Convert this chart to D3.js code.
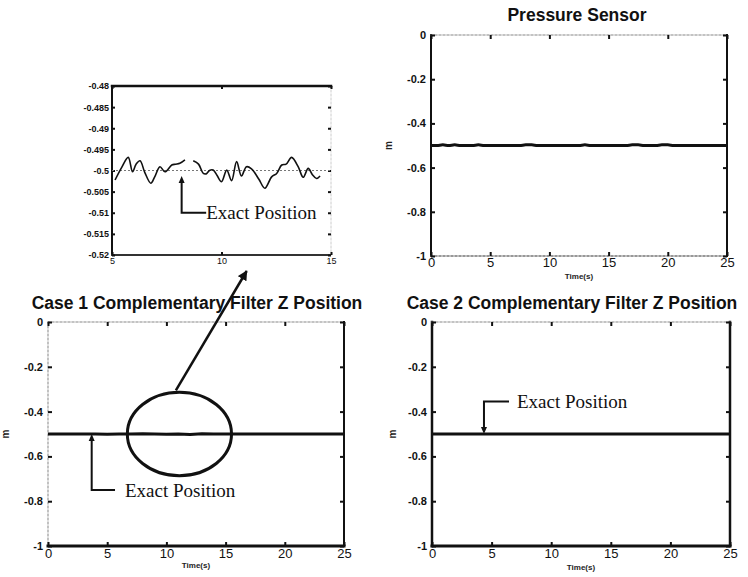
<!DOCTYPE html>
<html><head><meta charset="utf-8">
<script src="https://cdn.jsdelivr.net/npm/d3@7"></script>
<style>body{margin:0;background:#fff}svg{display:block}</style>
</head><body><svg id="c" width="748" height="577"></svg>
<script>
// ---------- data ----------
const xTicks = [0, 5, 10, 15, 20, 25];
const yTicks = [0, -0.2, -0.4, -0.6, -0.8, -1];
const yTickLabels = ["0", "-0.2", "-0.4", "-0.6", "-0.8", "-1"];
const insetXTicks = [5, 10, 15];
const insetYTicks = [-0.48, -0.485, -0.49, -0.495, -0.5, -0.505, -0.51, -0.515, -0.52];
const insetYTickLabels = ["-0.48", "-0.485", "-0.49", "-0.495", "-0.5", "-0.505", "-0.51", "-0.515", "-0.52"];

const pressureTime  = [0, 0.5, 1, 1.5, 2, 2.5, 3, 3.5, 4, 4.5, 5, 5.5, 6, 6.5, 7, 7.5, 8, 8.5, 9, 9.5, 10, 10.5, 11, 11.5, 12, 12.5, 13, 13.5, 14, 14.5, 15, 15.5, 16, 16.5, 17, 17.5, 18, 18.5, 19, 19.5, 20, 20.5, 21, 21.5, 22, 22.5, 23, 23.5, 24, 24.5, 25];
const pressureValue = [-0.5, -0.5, -0.497, -0.5, -0.497, -0.5, -0.5, -0.5, -0.497, -0.5, -0.5, -0.5, -0.5, -0.5, -0.5, -0.5, -0.497, -0.497, -0.5, -0.5, -0.5, -0.5, -0.5, -0.5, -0.5, -0.5, -0.497, -0.5, -0.5, -0.5, -0.5, -0.5, -0.5, -0.5, -0.497, -0.497, -0.5, -0.5, -0.5, -0.497, -0.497, -0.5, -0.5, -0.5, -0.5, -0.5, -0.5, -0.5, -0.5, -0.5, -0.5];

const case1Time  = [0, 1, 2, 3, 4, 5, 6, 7, 8, 9, 10, 11, 12, 13, 14, 15, 16, 17, 18, 19, 20, 21, 22, 23, 24, 25];
const case1Value = [-0.5, -0.5005, -0.4995, -0.5, -0.5005, -0.501, -0.4995, -0.5, -0.499, -0.5005, -0.5015, -0.4995, -0.502, -0.499, -0.5, -0.5005, -0.5, -0.4995, -0.5005, -0.5, -0.5, -0.5005, -0.4995, -0.5, -0.5, -0.5];

const case2Time  = [0, 2.5, 5, 7.5, 10, 12.5, 15, 17.5, 20, 22.5, 25];
const case2Value = [-0.5, -0.5, -0.5005, -0.5, -0.5, -0.4995, -0.5, -0.5, -0.5005, -0.5, -0.5];

const insetTime  = [5.14, 5.45, 5.74, 5.94, 6.1, 6.28, 6.5, 6.77, 6.95, 7.19, 7.42, 7.73, 7.9, 8.1, 8.33, 8.5, 8.71, 8.95, 9.17, 9.3, 9.45, 9.62, 9.8, 10.0, 10.24, 10.46, 10.69, 10.91, 11.14, 11.37, 11.7, 11.98, 12.29, 12.52, 12.75, 12.95, 13.2, 13.5, 13.73, 13.96, 14.15, 14.34, 14.5];
const insetValue = [-0.50225, -0.4992, -0.4969, -0.5003, -0.4985, -0.4977, -0.5005, -0.503, -0.5015, -0.4991, -0.5003, -0.4987, -0.4985, -0.4983, -0.4975, null, -0.4977, -0.4985, -0.5007, -0.5008, -0.5, -0.4999, -0.5012, -0.50265, -0.4999, -0.5024, -0.4979, -0.5013, -0.4991, -0.4996, -0.502, -0.5042, -0.5015, -0.5007, -0.4987, -0.4985, -0.4969, -0.4991, -0.5016, -0.4995, -0.501, -0.5019, -0.5013];

const exactPosition = -0.5;
const titles = ["Pressure Sensor", "Case 1 Complementary Filter Z Position", "Case 2 Complementary Filter Z Position"];
const xLabel = "Time(s)";
const yLabel = "m";
const annotationText = "Exact Position";

// ---------- drawing ----------
const svg = d3.select("#c");
svg.append("rect").attr("width", 748).attr("height", 577).attr("fill", "#fff");
const SANS = "'Liberation Sans', Arial, sans-serif";
const SERIF = "'Liberation Serif', 'Times New Roman', serif";

const solid = w => ({c: "#111", w: w});
const dotted = (c, w) => ({c: c, w: w, d: "2,2"});

function panel(o) {
  const x = d3.scaleLinear().domain(o.xDomain).range([o.l, o.r]);
  const y = d3.scaleLinear().domain(o.yDomain).range([o.b, o.t]);
  const g = svg.append("g");
  const sides = {
    left: [o.l, o.t, o.l, o.b], right: [o.r, o.t, o.r, o.b],
    top: [o.l, o.t, o.r, o.t], bottom: [o.l, o.b, o.r, o.b]
  };
  Object.keys(sides).forEach(k => {
    const s = o.border[k], c = sides[k];
    g.append("line").attr("x1", c[0]).attr("y1", c[1]).attr("x2", c[2]).attr("y2", c[3])
      .attr("stroke", s.c).attr("stroke-width", s.w).attr("stroke-dasharray", s.d || null)
      .attr("stroke-linecap", "square");
  });
  const style = (sel, size, weight) => {
    sel.select(".domain").remove();
    sel.selectAll(".tick line").attr("stroke", "#111").attr("stroke-width", 2);
    sel.selectAll("text").attr("font-family", SANS).attr("font-size", size)
      .attr("font-weight", weight).attr("fill", "#111");
  };
  g.append("g").attr("transform", `translate(0,${o.b})`)
    .call(d3.axisBottom(x).tickValues(o.xTicks).tickFormat(d3.format("d"))
      .tickSizeInner(-o.tick).tickSizeOuter(0).tickPadding(o.xPad))
    .call(s => style(s, o.xFont, "normal"));
  g.append("g").attr("transform", `translate(${o.l},0)`)
    .call(d3.axisLeft(y).tickValues(o.yTicks).tickFormat((d, i) => o.yLabels[i])
      .tickSizeInner(-o.tick).tickSizeOuter(0).tickPadding(o.yPad))
    .call(s => style(s, o.yFont, "bold"));
  g.append("g").attr("transform", `translate(0,${o.t})`)
    .call(d3.axisTop(x).tickValues(o.xTicks).tickFormat("").tickSizeInner(-o.tick).tickSizeOuter(0))
    .call(s => style(s, 1, "normal"));
  g.append("g").attr("transform", `translate(${o.r},0)`)
    .call(d3.axisRight(y).tickValues(o.yTicks).tickFormat("").tickSizeInner(-o.tick).tickSizeOuter(0))
    .call(s => style(s, 1, "normal"));
  if (o.title) {
    g.append("text").attr("x", o.titleX).attr("y", o.titleY).attr("text-anchor", "middle")
      .attr("font-family", SANS).attr("font-weight", "bold").attr("font-size", o.titleSize)
      .attr("fill", "#111").text(o.title);
  }
  if (o.xLabelY) {
    g.append("text").attr("x", (o.l + o.r) / 2).attr("y", o.xLabelY).attr("text-anchor", "middle")
      .attr("font-family", SANS).attr("font-weight", "bold").attr("font-size", 8)
      .attr("fill", "#222").text(xLabel);
  }
  if (o.yLabelX) {
    g.append("text").attr("transform", `translate(${o.yLabelX},${(o.t + o.b) / 2}) rotate(-90)`)
      .attr("text-anchor", "middle").attr("font-family", SANS).attr("font-weight", "bold")
      .attr("font-size", 10).attr("fill", "#222").text(yLabel);
  }
  return {g, x, y};
}

function series(p, times, values, width, curve) {
  const data = times.map((t, i) => ({t, v: values[i]}));
  p.g.append("path").datum(data)
    .attr("d", d3.line().defined(d => d.v !== null).x(d => p.x(d.t)).y(d => p.y(d.v)).curve(curve || d3.curveLinear))
    .attr("fill", "none").attr("stroke", "#111").attr("stroke-width", width)
    .attr("stroke-linejoin", "round");
}

function pointer(p, tipT, tipV, cornerV, endT, textT, dir) {
  const tx = p.x(tipT), ty = p.y(tipV), cy = p.y(cornerV), ex = p.x(endT);
  p.g.append("path").attr("d", `M${tx},${ty + dir * 4}L${tx},${cy}L${ex},${cy}`)
    .attr("fill", "none").attr("stroke", "#111").attr("stroke-width", 2);
  p.g.append("path").attr("d", `M${tx},${ty}L${tx - 3},${ty + dir * 7}L${tx + 3},${ty + dir * 7}Z`).attr("fill", "#111");
  p.g.append("text").attr("x", p.x(textT)).attr("y", cy + 6.5).attr("font-family", SERIF)
    .attr("font-size", 19).attr("fill", "#111").text(annotationText);
}

// Pressure sensor
const pP = panel({
  l: 431, r: 727, t: 35, b: 256, xDomain: [0, 25], yDomain: [-1, 0],
  xTicks, yTicks, yLabels: yTickLabels, tick: 4, xPad: 2, yPad: 5, xFont: 13, yFont: 11,
  border: {left: solid(2), right: solid(2), top: dotted("#888", 1.2), bottom: dotted("#777", 1.3)},
  title: titles[0], titleX: 577, titleY: 21, titleSize: 17.5, xLabelY: 279, yLabelX: 392
});
series(pP, pressureTime, pressureValue, 3, d3.curveMonotoneX);

// Case 1
const p1 = panel({
  l: 48, r: 344, t: 322, b: 546, xDomain: [0, 25], yDomain: [-1, 0],
  xTicks, yTicks, yLabels: yTickLabels, tick: 4, xPad: 3, yPad: 5, xFont: 13, yFont: 11,
  border: {left: dotted("#999", 1.2), right: solid(2), top: dotted("#888", 1.2), bottom: solid(3)},
  title: titles[1], titleX: 197, titleY: 309, titleSize: 17.5, xLabelY: 568, yLabelX: 9
});
series(p1, case1Time, case1Value, 3);
pointer(p1, 3.69, exactPosition, -0.75, 5.66, 6.5, 1);

// Case 2
const p2 = panel({
  l: 432, r: 730, t: 322, b: 546, xDomain: [0, 25], yDomain: [-1, 0],
  xTicks, yTicks, yLabels: yTickLabels, tick: 4, xPad: 3, yPad: 5, xFont: 13, yFont: 11,
  border: {left: solid(2.5), right: solid(2.5), top: dotted("#888", 1.2), bottom: solid(3)},
  title: titles[2], titleX: 572, titleY: 309, titleSize: 17.5, xLabelY: 570, yLabelX: 396
});
series(p2, case2Time, case2Value, 3);
pointer(p2, 4.36, exactPosition, -0.355, 6.46, 7.13, -1);

// Inset (zoom of Case 1 between 5 s and 15 s)
const pI = panel({
  l: 112, r: 331, t: 86, b: 255, xDomain: [5, 15], yDomain: [-0.52, -0.48],
  xTicks: insetXTicks, yTicks: insetYTicks, yLabels: insetYTickLabels, tick: 3, xPad: 3, yPad: 3, xFont: 9, yFont: 9,
  border: {left: solid(2), right: dotted("#ccc", 1), top: solid(2.5), bottom: dotted("#333", 2)}
});
pI.g.append("line").attr("x1", pI.x(5)).attr("x2", pI.x(15))
  .attr("y1", pI.y(exactPosition)).attr("y2", pI.y(exactPosition))
  .attr("stroke", "#777").attr("stroke-width", 1.2).attr("stroke-dasharray", "2,2");
series(pI, insetTime, insetValue, 1.6, d3.curveCatmullRom);
pointer(pI, 8.18, -0.5013, -0.51, 9.3, 9.3, 1);

// Zoom ellipse and arrow on Case 1
const ex = p1.x(11.1), ey = p1.y(exactPosition);
const erx = p1.x(11.1 + 4.4) - ex, ery = p1.y(-0.5 + 0.186) - ey;
p1.g.append("ellipse").attr("cx", ex).attr("cy", ey).attr("rx", erx).attr("ry", Math.abs(ery))
  .attr("fill", "none").attr("stroke", "#111").attr("stroke-width", 3);
const ax0 = p1.x(10.8), ay0 = p1.y(-0.305);
const ax1 = pI.x(11.15), ay1 = pI.y(-0.52) + 16;
svg.append("defs").append("marker").attr("id", "ah").attr("viewBox", "0 0 10 10")
  .attr("refX", 9).attr("refY", 5).attr("markerWidth", 4).attr("markerHeight", 4)
  .attr("orient", "auto").append("path").attr("d", "M0,0L10,5L0,10Z").attr("fill", "#111");
svg.append("line").attr("x1", ax0).attr("y1", ay0).attr("x2", ax1).attr("y2", ay1)
  .attr("stroke", "#111").attr("stroke-width", 2.5).attr("marker-end", "url(#ah)");
</script></body></html>
